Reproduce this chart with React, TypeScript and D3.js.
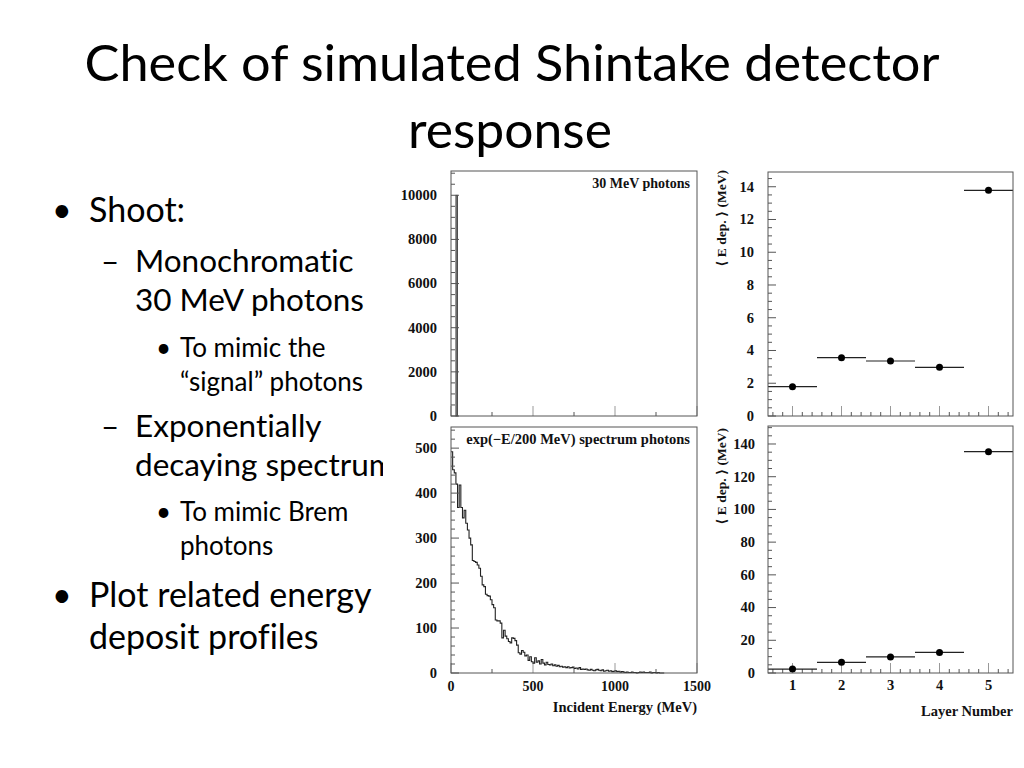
import React, { useEffect, useRef } from 'react';
import * as d3 from 'd3';

// slide text
const titleLines = ['Check of simulated Shintake detector', 'response'];
const bulletLines = [
  { text: 'Shoot:', level: 1, marker: true },
  { text: 'Monochromatic', level: 2, marker: true },
  { text: '30 MeV photons', level: 2, marker: false },
  { text: 'To mimic the', level: 3, marker: true },
  { text: '\u201csignal\u201d photons', level: 3, marker: false },
  { text: 'Exponentially', level: 2, marker: true },
  { text: 'decaying spectrum', level: 2, marker: false },
  { text: 'To mimic Brem', level: 3, marker: true },
  { text: 'photons', level: 3, marker: false },
  { text: 'Plot related energy', level: 1, marker: true },
  { text: 'deposit profiles', level: 1, marker: false },
];

// histograms (counts per 10 MeV bin, starting at 0 MeV)
const binWidth = 10;
const monoBinStart = 30;
const monoCount = 10000;
const spectrumCounts = [
  492, 452, 445, 420, 368, 418, 368, 345, 362, 333,
  318, 300, 285, 250, 248, 246, 240, 233, 215, 196,
  192, 175, 172, 171, 163, 152, 145, 118, 116, 116,
  111, 78, 95, 82, 76, 70, 67, 78, 77, 72,
  62, 45, 42, 50, 46, 38, 40, 28, 36, 25,
  22, 34, 24, 27, 20, 30, 22, 18, 24, 19,
  18, 20, 16, 18, 15, 17, 14, 15, 13, 14,
  12, 14, 11, 12, 13, 10, 11, 9, 12, 8,
  9, 8, 9, 7, 6, 8, 6, 5, 7, 8,
  6, 5, 7, 4, 5, 6, 4, 5, 3, 4,
  5, 3, 4, 2, 3, 2, 1, 2, 1, 1,
  2, 1, 1, 0, 1, 2, 1, 2, 1, 1,
  1, 2, 0, 1, 1, 0, 1, 0, 0, 0,
];
const energyTicks = [0, 500, 1000, 1500];
const monoCountTicks = [0, 2000, 4000, 6000, 8000, 10000];
const spectrumCountTicks = [0, 100, 200, 300, 400, 500];

// energy deposit profiles
const layers = [1, 2, 3, 4, 5];
const monoDeposit = [1.79, 3.56, 3.36, 2.97, 13.78];
const spectrumDeposit = [2.4, 6.5, 9.8, 12.6, 135.3];
const monoDepositTicks = [0, 2, 4, 6, 8, 10, 12, 14];
const spectrumDepositTicks = [0, 20, 40, 60, 80, 100, 120, 140];

const W = 1024;
const H = 768;
const SERIF = '"Liberation Serif", "DejaVu Serif", serif';
const SANS = 'Lato, "Open Sans", sans-serif';
const FRAME = '#555';

export default function App() {
  const svgRef = useRef<SVGSVGElement>(null);

  useEffect(() => {
    if (!svgRef.current) return;
    const svg = d3.select(svgRef.current);
    svg.selectAll('*').remove();

    svg.append('rect').attr('width', W).attr('height', H).attr('fill', '#fff');

    // title
    const title = svg.append('g').attr('font-family', SANS).attr('fill', '#000').attr('text-anchor', 'middle');
    title.append('text').attr('x', 512).attr('y', 81).attr('font-size', 50)
      .attr('textLength', 855).attr('lengthAdjust', 'spacingAndGlyphs').text(titleLines[0]);
    title.append('text').attr('x', 510).attr('y', 148).attr('font-size', 50)
      .attr('textLength', 204).attr('lengthAdjust', 'spacingAndGlyphs').text(titleLines[1]);

    // bullets
    const levelStyle: Record<number, { mx: number; tx: number; size: number; mark: string }> = {
      1: { mx: 52, tx: 89, size: 34, mark: '\u2022' },
      2: { mx: 101, tx: 135, size: 31.5, mark: '\u2013' },
      3: { mx: 156, tx: 180, size: 26, mark: '\u2022' },
    };
    const baselines = [222, 272, 311, 357, 391, 437, 476, 521, 555, 607, 649];
    const body = svg.append('g').attr('font-family', SANS).attr('fill', '#000')
      .style('font-variant-ligatures', 'none');
    bulletLines.forEach((b, i) => {
      const st = levelStyle[b.level];
      if (b.marker) {
        body.append('text').attr('x', st.mx).attr('y', baselines[i]).attr('font-size', st.size).text(st.mark);
      }
      body.append('text').attr('x', st.tx).attr('y', baselines[i]).attr('font-size', st.size).text(b.text);
    });

    // chart picture background (covers overflow of the text)
    svg.append('rect').attr('x', 383).attr('y', 162).attr('width', W - 383).attr('height', 560).attr('fill', '#fff');

    const chart = svg.append('g').attr('font-family', SERIF).attr('font-weight', 'bold').attr('fill', '#111');

    const frame = (x0: number, x1: number, y0: number, y1: number) => {
      chart.append('rect').attr('x', x0).attr('y', y0).attr('width', x1 - x0).attr('height', y1 - y0)
        .attr('fill', 'none').attr('stroke', FRAME).attr('stroke-width', 1);
    };
    const yTicks = (y: d3.ScaleLinear<number, number>, x0: number, major: number[], minorStep: number, labelX: number, size: number) => {
      const [lo, hi] = y.domain();
      d3.range(lo, hi + 1e-9, minorStep).forEach(v => {
        const isMajor = major.some(m => Math.abs(m - v) < 1e-6);
        chart.append('line').attr('x1', x0).attr('x2', x0 + (isMajor ? 8 : 4))
          .attr('y1', y(v)).attr('y2', y(v)).attr('stroke', FRAME).attr('stroke-width', 1);
      });
      major.forEach(v => {
        chart.append('text').attr('x', labelX).attr('y', y(v) + size * 0.34).attr('text-anchor', 'end')
          .attr('font-size', size).text(String(v));
      });
    };
    const xTicks = (x: d3.ScaleLinear<number, number>, y0: number, majorStep: number, minorStep: number) => {
      const [lo, hi] = x.domain();
      const start = Math.ceil(lo / minorStep - 1e-9) * minorStep;
      d3.range(start, hi + 1e-9, minorStep).forEach(v => {
        const r = v / majorStep;
        const isMajor = Math.abs(r - Math.round(r)) < 1e-6;
        chart.append('line').attr('x1', x(v)).attr('x2', x(v))
          .attr('y1', y0).attr('y2', y0 - (isMajor ? 10 : 4))
          .attr('stroke', isMajor ? '#999' : FRAME).attr('stroke-width', 1);
      });
    };

    // ---- left: incident energy spectra ----
    const xE = d3.scaleLinear().domain([0, 1500]).range([451, 697]);
    const yMono = d3.scaleLinear().domain([0, 11100]).range([416, 171]);
    const ySpec = d3.scaleLinear().domain([0, 547]).range([673, 427]);

    chart.append('rect')
      .attr('x', xE(monoBinStart)).attr('width', xE(monoBinStart + binWidth) - xE(monoBinStart))
      .attr('y', yMono(monoCount)).attr('height', yMono(0) - yMono(monoCount))
      .attr('fill', '#888').attr('stroke', '#333').attr('stroke-width', 0.8);

    const specPts: [number, number][] = spectrumCounts.map((c, i) => [i * binWidth, c]);
    specPts.push([spectrumCounts.length * binWidth, 0]);
    const step = d3.line<[number, number]>()
      .x(d => xE(d[0]))
      .y(d => ySpec(d[1]))
      .curve(d3.curveStepAfter);

    xTicks(xE, 416, 500, 250);
    xTicks(xE, 673, 500, 250);

    chart.append('path').attr('d', step(specPts)).attr('fill', 'none')
      .attr('stroke', '#222').attr('stroke-width', 1.1);

    frame(451, 697, 171, 416);
    frame(451, 697, 427, 673);
    yTicks(yMono, 451, monoCountTicks, 500, 437, 14.5);
    yTicks(ySpec, 451, spectrumCountTicks, 20, 437, 14.5);

    energyTicks.forEach(v => {
      chart.append('text').attr('x', xE(v)).attr('y', 691).attr('text-anchor', 'middle')
        .attr('font-size', 14).text(String(v));
    });
    chart.append('text').attr('x', 697).attr('y', 712).attr('text-anchor', 'end')
      .attr('font-size', 14.5).text('Incident Energy (MeV)');
    chart.append('text').attr('x', 690).attr('y', 188).attr('text-anchor', 'end')
      .attr('font-size', 14).text('30 MeV photons');
    chart.append('text').attr('x', 690).attr('y', 444).attr('text-anchor', 'end')
      .attr('font-size', 14.5).text('exp(\u2212E/200 MeV) spectrum photons');

    // ---- right: energy deposit per layer ----
    const xL = d3.scaleLinear().domain([0.5, 5.5]).range([768, 1013]);
    const yD1 = d3.scaleLinear().domain([0, 14.9]).range([416, 172]);
    const yD2 = d3.scaleLinear().domain([0, 151]).range([673, 426]);

    const profile = (y: d3.ScaleLinear<number, number>, vals: number[], y0: number) => {
      xTicks(xL, y0, 1, 0.2);
      layers.forEach((l, i) => {
        chart.append('line').attr('x1', xL(l - 0.5)).attr('x2', xL(l + 0.5))
          .attr('y1', y(vals[i])).attr('y2', y(vals[i])).attr('stroke', '#222').attr('stroke-width', 1.2);
        chart.append('circle').attr('cx', xL(l)).attr('cy', y(vals[i])).attr('r', 3.5).attr('fill', '#000');
      });
    };
    profile(yD1, monoDeposit, 416);
    profile(yD2, spectrumDeposit, 673);
    frame(768, 1013, 172, 416);
    frame(768, 1013, 426, 673);
    yTicks(yD1, 768, monoDepositTicks, 0.5, 754, 14.5);
    yTicks(yD2, 768, spectrumDepositTicks, 5, 755, 14.5);

    layers.forEach(l => {
      chart.append('text').attr('x', xL(l)).attr('y', 690).attr('text-anchor', 'middle')
        .attr('font-size', 14.5).text(String(l));
    });
    chart.append('text').attr('x', 1013).attr('y', 716).attr('text-anchor', 'end')
      .attr('font-size', 14.5).text('Layer Number');

    [[170], [428]].forEach(([top]) => {
      chart.append('text').attr('transform', `translate(726, ${top}) rotate(-90)`)
        .attr('text-anchor', 'end').attr('font-size', 13.5).text('\u27e8 E dep. \u27e9 (MeV)');
    });
  }, []);

  return (
    <svg ref={svgRef} width={W} height={H}
      style={{ position: 'absolute', left: 0, top: 0, display: 'block' }} />
  );
}
